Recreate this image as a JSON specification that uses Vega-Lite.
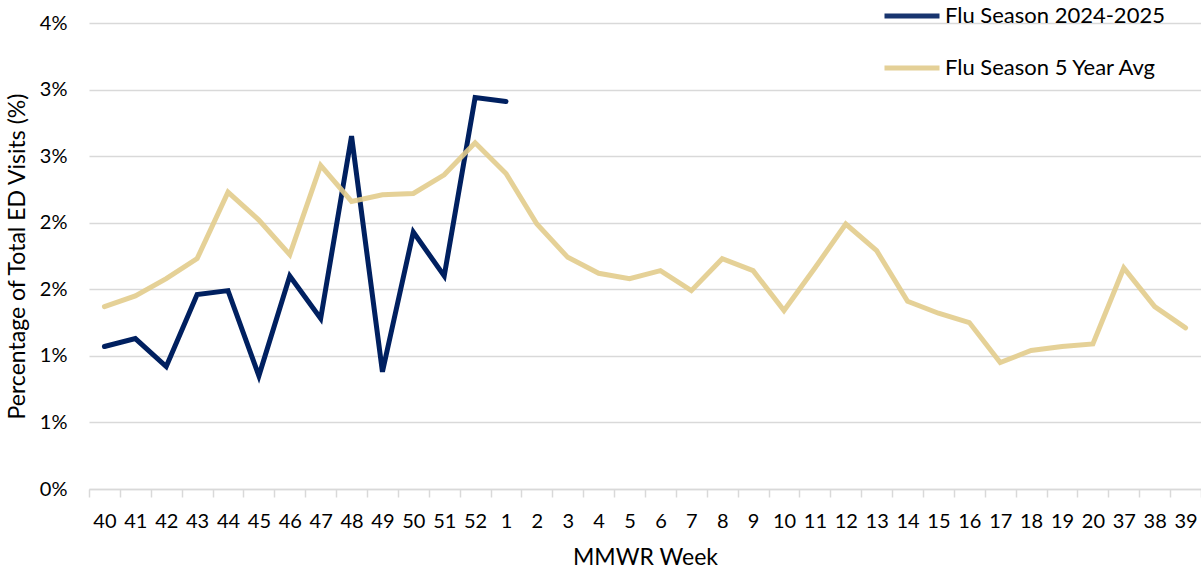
{
  "$schema": "https://vega.github.io/schema/vega-lite/v6.json",
  "width": 1112,
  "height": 466,
  "autosize": "none",
  "padding": {"left": 89, "top": 23, "right": 0, "bottom": 84},
  "background": "white",
  "config": {
    "view": {"stroke": null},
    "font": "Lato",
    "axis": {"labelFont": "Lato", "titleFont": "Lato", "labelColor": "#000000", "titleColor": "#000000", "titleFontWeight": "normal"}
  },
  "data": {
    "values": [
      {"week": "40", "series": "Flu Season 2024-2025", "value": 1.07},
      {"week": "41", "series": "Flu Season 2024-2025", "value": 1.13},
      {"week": "42", "series": "Flu Season 2024-2025", "value": 0.92},
      {"week": "43", "series": "Flu Season 2024-2025", "value": 1.46},
      {"week": "44", "series": "Flu Season 2024-2025", "value": 1.49},
      {"week": "45", "series": "Flu Season 2024-2025", "value": 0.85},
      {"week": "46", "series": "Flu Season 2024-2025", "value": 1.60},
      {"week": "47", "series": "Flu Season 2024-2025", "value": 1.28},
      {"week": "48", "series": "Flu Season 2024-2025", "value": 2.65},
      {"week": "49", "series": "Flu Season 2024-2025", "value": 0.88},
      {"week": "50", "series": "Flu Season 2024-2025", "value": 1.93},
      {"week": "51", "series": "Flu Season 2024-2025", "value": 1.60},
      {"week": "52", "series": "Flu Season 2024-2025", "value": 2.94},
      {"week": "1", "series": "Flu Season 2024-2025", "value": 2.91},
      {"week": "40", "series": "Flu Season 5 Year Avg", "value": 1.37},
      {"week": "41", "series": "Flu Season 5 Year Avg", "value": 1.45},
      {"week": "42", "series": "Flu Season 5 Year Avg", "value": 1.58},
      {"week": "43", "series": "Flu Season 5 Year Avg", "value": 1.73},
      {"week": "44", "series": "Flu Season 5 Year Avg", "value": 2.23},
      {"week": "45", "series": "Flu Season 5 Year Avg", "value": 2.02},
      {"week": "46", "series": "Flu Season 5 Year Avg", "value": 1.76},
      {"week": "47", "series": "Flu Season 5 Year Avg", "value": 2.43},
      {"week": "48", "series": "Flu Season 5 Year Avg", "value": 2.16},
      {"week": "49", "series": "Flu Season 5 Year Avg", "value": 2.21},
      {"week": "50", "series": "Flu Season 5 Year Avg", "value": 2.22},
      {"week": "51", "series": "Flu Season 5 Year Avg", "value": 2.36},
      {"week": "52", "series": "Flu Season 5 Year Avg", "value": 2.60},
      {"week": "1", "series": "Flu Season 5 Year Avg", "value": 2.37},
      {"week": "2", "series": "Flu Season 5 Year Avg", "value": 1.99},
      {"week": "3", "series": "Flu Season 5 Year Avg", "value": 1.74},
      {"week": "4", "series": "Flu Season 5 Year Avg", "value": 1.62},
      {"week": "5", "series": "Flu Season 5 Year Avg", "value": 1.58},
      {"week": "6", "series": "Flu Season 5 Year Avg", "value": 1.64},
      {"week": "7", "series": "Flu Season 5 Year Avg", "value": 1.49},
      {"week": "8", "series": "Flu Season 5 Year Avg", "value": 1.73},
      {"week": "9", "series": "Flu Season 5 Year Avg", "value": 1.64},
      {"week": "10", "series": "Flu Season 5 Year Avg", "value": 1.34},
      {"week": "11", "series": "Flu Season 5 Year Avg", "value": 1.66},
      {"week": "12", "series": "Flu Season 5 Year Avg", "value": 1.99},
      {"week": "13", "series": "Flu Season 5 Year Avg", "value": 1.79},
      {"week": "14", "series": "Flu Season 5 Year Avg", "value": 1.41},
      {"week": "15", "series": "Flu Season 5 Year Avg", "value": 1.32},
      {"week": "16", "series": "Flu Season 5 Year Avg", "value": 1.25},
      {"week": "17", "series": "Flu Season 5 Year Avg", "value": 0.95},
      {"week": "18", "series": "Flu Season 5 Year Avg", "value": 1.04},
      {"week": "19", "series": "Flu Season 5 Year Avg", "value": 1.07},
      {"week": "20", "series": "Flu Season 5 Year Avg", "value": 1.09},
      {"week": "37", "series": "Flu Season 5 Year Avg", "value": 1.66},
      {"week": "38", "series": "Flu Season 5 Year Avg", "value": 1.37},
      {"week": "39", "series": "Flu Season 5 Year Avg", "value": 1.21}
    ]
  },
  "encoding": {
    "x": {
      "field": "week",
      "type": "ordinal",
      "title": "MMWR Week",
      "scale": {
        "domain": ["40","41","42","43","44","45","46","47","48","49","50","51","52","1","2","3","4","5","6","7","8","9","10","11","12","13","14","15","16","17","18","19","20","37","38","39"],
        "paddingInner": 0, "paddingOuter": 0
      },
      "axis": {
        "labelAngle": 0, "labelFontSize": 20, "labelPadding": 14,
        "titleFontSize": 23, "titlePadding": 15,
        "domainColor": "#D9D9D9", "domainWidth": 1.5,
        "tickColor": "#D9D9D9", "tickWidth": 1.5, "tickSize": 8, "tickBand": "extent",
        "grid": false
      }
    },
    "y": {
      "field": "value",
      "type": "quantitative",
      "title": "Percentage of Total ED Visits (%)",
      "scale": {"domain": [0, 3.5], "nice": false},
      "axis": {
        "values": [0, 0.5, 1, 1.5, 2, 2.5, 3, 3.5],
        "labelExpr": "format(round(datum.value), 'd') + '%'",
        "labelFontSize": 20, "labelPadding": 22,
        "titleFontSize": 23, "titlePadding": 10,
        "domain": false, "ticks": false,
        "gridColor": "#D9D9D9", "gridWidth": 1.5
      }
    },
    "color": {
      "field": "series",
      "type": "nominal",
      "scale": {"domain": ["Flu Season 2024-2025", "Flu Season 5 Year Avg"], "range": ["#002060", "#E2CC8C"]},
      "legend": {
        "title": null,
        "orient": "none",
        "legendX": 793,
        "legendY": -37,
        "symbolType": "stroke",
        "symbolSize": 3025,
        "symbolStrokeWidth": 5,
        "labelFontSize": 22,
        "labelFont": "Lato",
        "labelColor": "#000000",
        "labelOffset": 3,
        "labelLimit": 0,
        "rowPadding": 11
      }
    }
  },
  "layer": [
    {
      "transform": [{"filter": "datum.series === 'Flu Season 2024-2025'"}],
      "mark": {"type": "line", "strokeWidth": 5, "strokeCap": "round"}
    },
    {
      "transform": [{"filter": "datum.series === 'Flu Season 5 Year Avg'"}],
      "mark": {"type": "line", "strokeWidth": 5, "strokeCap": "round", "opacity": 0.9}
    }
  ]
}
